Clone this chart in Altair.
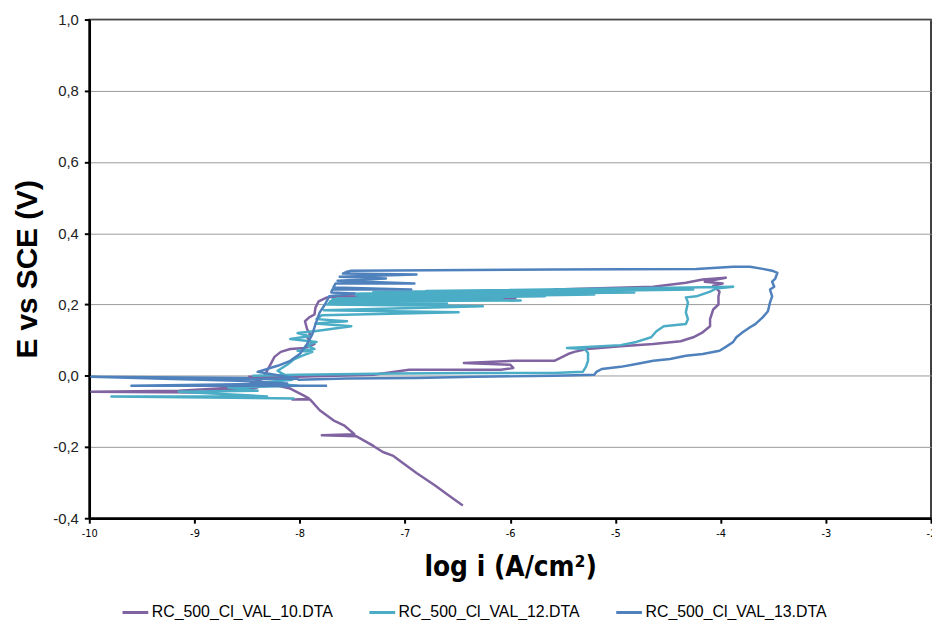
import altair as alt
import pandas as pd

series_names = ["RC_500_Cl_VAL_10.DTA", "RC_500_Cl_VAL_12.DTA", "RC_500_Cl_VAL_13.DTA"]
series_colors = ["#8064A2", "#4BACC6", "#4F81BD"]

x_ticks = [-10, -9, -8, -7, -6, -5, -4, -3, -2]
y_ticks = [-0.4, -0.2, 0.0, 0.2, 0.4, 0.6, 0.8, 1.0]

# RC_500_Cl_VAL_10 (purple): log i and E
val10_logi = [-6.45, -6.58, -6.71, -6.89, -7.02, -7.11, -7.21, -7.30, -7.46, -7.79,
              -7.48, -7.58, -7.68, -7.81, -7.90, -8.07, -7.91, -7.96, -8.09, -8.21,
              -8.49, -9.15, -9.98, -8.97, -8.40, -8.62, -8.35, -8.29, -8.24, -8.18,
              -8.09, -7.95, -7.86, -7.90, -7.93, -7.90, -7.93, -7.95, -7.91, -7.86,
              -7.85, -7.82, -7.74, -7.60, -6.33, -6.89, -5.95, -7.27, -5.58, -6.89,
              -5.01, -5.58, -4.64, -4.33, -4.17, -3.95, -4.15, -3.98, -4.07, -4.01,
              -4.02, -4.02, -4.07, -4.10, -4.10, -4.17, -4.26, -4.38, -4.64, -4.95,
              -5.27, -5.39, -5.45, -5.58, -5.95, -6.44, -6.00, -5.97, -6.09, -6.96,
              -7.30, -8.02, -8.49]
val10_E = [-0.364, -0.337, -0.309, -0.273, -0.245, -0.225, -0.214, -0.197, -0.170, -0.167,
           -0.164, -0.139, -0.125, -0.097, -0.067, -0.067, -0.064, -0.056, -0.036, -0.028,
           -0.031, -0.042, -0.045, -0.047, -0.033, -0.039, -0.008, 0.025, 0.053, 0.067,
           0.075, 0.078, 0.089, 0.097, 0.108, 0.117, 0.131, 0.153, 0.164, 0.172,
           0.192, 0.209, 0.220, 0.223, 0.220, 0.217, 0.217, 0.228, 0.234, 0.234,
           0.242, 0.242, 0.250, 0.261, 0.270, 0.275, 0.264, 0.259, 0.253, 0.236,
           0.223, 0.200, 0.186, 0.159, 0.139, 0.122, 0.108, 0.097, 0.089, 0.083,
           0.075, 0.067, 0.061, 0.042, 0.042, 0.036, 0.031, 0.022, 0.017, 0.017,
           0.003, -0.003, -0.003]

# RC_500_Cl_VAL_12 (cyan)
val12_logi = [-8.05, -9.79, -8.31, -9.15, -8.40, -8.68, -8.02, -8.35, -8.07, -8.21,
              -8.12, -8.05, -7.98, -7.88, -8.02, -7.86, -7.93, -7.84, -8.09, -7.91,
              -8.02, -7.86, -7.51, -7.85, -7.55, -7.84, -7.79, -6.49, -7.77, -6.26,
              -7.74, -6.60, -7.72, -6.07, -7.71, -5.90, -7.69, -5.67, -7.65, -5.20,
              -7.46, -4.82, -7.08, -4.26, -6.42, -7.50, -5.50, -7.30, -5.00, -6.80,
              -4.60, -6.00, -4.30, -3.88, -4.04, -4.10, -4.23, -4.33, -4.31, -4.33,
              -4.31, -4.33, -4.54, -4.61, -4.66, -4.80, -4.95, -5.27, -5.46, -5.29,
              -5.26, -5.26, -5.28, -5.31, -5.58, -6.33, -7.08, -8.02, -8.45]
val12_E = [-0.064, -0.058, -0.058, -0.045, -0.042, -0.033, -0.028, -0.019, -0.011, 0.014,
           0.031, 0.047, 0.056, 0.067, 0.070, 0.075, 0.086, 0.095, 0.103, 0.111,
           0.120, 0.125, 0.139, 0.147, 0.153, 0.159, 0.170, 0.178, 0.184, 0.195,
           0.200, 0.203, 0.205, 0.214, 0.209, 0.211, 0.215, 0.223, 0.217, 0.228,
           0.225, 0.234, 0.231, 0.242, 0.236, 0.230, 0.239, 0.235, 0.243, 0.238,
           0.246, 0.241, 0.248, 0.250, 0.245, 0.236, 0.223, 0.220, 0.206, 0.178,
           0.159, 0.145, 0.139, 0.125, 0.108, 0.095, 0.086, 0.081, 0.078, 0.075,
           0.064, 0.042, 0.025, 0.011, 0.008, 0.008, 0.006, 0.003, 0.0]

# RC_500_Cl_VAL_13 (blue)
val13_logi = [-7.74, -9.60, -8.12, -8.59, -9.98, -8.49, -8.84, -8.02, -8.40, -8.21,
              -8.09, -8.00, -7.93, -7.88, -7.85, -7.81, -7.76, -7.72, -7.48, -7.70,
              -7.69, -6.94, -7.68, -7.66, -6.91, -7.64, -7.18, -7.62, -6.89, -7.59,
              -7.55, -7.51, -5.58, -4.23, -3.88, -3.72, -3.60, -3.51, -3.46, -3.48,
              -3.51, -3.49, -3.53, -3.51, -3.53, -3.55, -3.60, -3.67, -3.72, -3.79,
              -3.85, -3.88, -3.95, -4.01, -4.17, -4.33, -4.48, -4.64, -4.80, -4.95,
              -5.13, -5.18, -5.20, -5.58, -6.33, -6.89, -7.55, -8.02]
val13_E = [-0.028, -0.028, -0.022, -0.014, -0.003, -0.006, -0.011, -0.008, 0.011, 0.028,
           0.042, 0.061, 0.089, 0.117, 0.145, 0.178, 0.200, 0.223, 0.231, 0.234,
           0.242, 0.242, 0.248, 0.259, 0.259, 0.267, 0.273, 0.278, 0.284, 0.287,
           0.292, 0.295, 0.298, 0.300, 0.306, 0.306, 0.300, 0.295, 0.289, 0.273,
           0.264, 0.250, 0.242, 0.223, 0.206, 0.181, 0.164, 0.145, 0.136, 0.122,
           0.108, 0.095, 0.081, 0.070, 0.061, 0.056, 0.047, 0.042, 0.033, 0.025,
           0.019, 0.011, 0.003, 0.0, -0.003, -0.006, -0.008, -0.011]

rows = []
for name, xs, ys in zip(series_names,
                        [val10_logi, val12_logi, val13_logi],
                        [val10_E, val12_E, val13_E]):
    for k, (xv, yv) in enumerate(zip(xs, ys)):
        rows.append({"series": name, "logi": xv, "E": yv, "idx": k})
df = pd.DataFrame(rows)

narrow = "Liberation Sans Narrow, Arial Narrow, DejaVu Sans Condensed, Liberation Sans, sans-serif"
regular = "Liberation Sans, Arial, sans-serif"

chart = alt.Chart(df).mark_line(strokeWidth=2.5, strokeJoin="round", clip=True).encode(
    x=alt.X("logi:Q",
            scale=alt.Scale(domain=[-10, -2], nice=False, zero=False),
            axis=alt.Axis(values=x_ticks, title="log i (A/cm²)",
                          labelExpr="(datum.value < 0 ? '-' : '') + format(abs(datum.value), 'd')",
                          labelFont=narrow, labelFontSize=11, labelColor="#000000",
                          labelPadding=4, labelFlush=False,
                          titleFont=narrow, titleFontSize=28, titleFontWeight="bold",
                          titleColor="#000000", titlePadding=16,
                          grid=False, domainColor="#000000", domainWidth=2.5,
                          tickColor="#000000", tickWidth=2, tickSize=5)),
    y=alt.Y("E:Q",
            scale=alt.Scale(domain=[-0.4, 1.0], nice=False, zero=False),
            axis=alt.Axis(values=y_ticks, title="E vs SCE (V)",
                          labelExpr="(datum.value < 0 ? '-' : '') + replace(format(abs(datum.value), '.1f'), '.', ',')",
                          labelFont=regular, labelFontSize=15, labelColor="#222222",
                          labelPadding=6,
                          titleFont=regular, titleFontSize=30, titleFontWeight="bold",
                          titleColor="#000000", titlePadding=10,
                          grid=True, gridColor="#9a9a9a", gridWidth=1,
                          domainColor="#000000", domainWidth=2.5,
                          tickColor="#000000", tickWidth=2, tickSize=5)),
    color=alt.Color("series:N",
                    scale=alt.Scale(domain=series_names, range=series_colors),
                    legend=alt.Legend(orient="none", legendX=32, legendY=585,
                                      direction="horizontal", title=None,
                                      symbolType="stroke", symbolSize=676,
                                      symbolStrokeWidth=3, labelFont=regular,
                                      labelFontSize=16, labelColor="#000000",
                                      labelLimit=0, labelOffset=2, columnPadding=35,
                                      clipHeight=26)),
    order=alt.Order("idx:Q"),
).properties(
    width=849,
    height=503,
    autosize=alt.AutoSizeParams(type="none"),
    padding={"left": 82, "top": 9, "right": 1, "bottom": 100},
).configure_view(
    stroke="#000000", strokeWidth=1.5
)

chart.save("out.html", embed_options={"renderer": "svg", "actions": False})
